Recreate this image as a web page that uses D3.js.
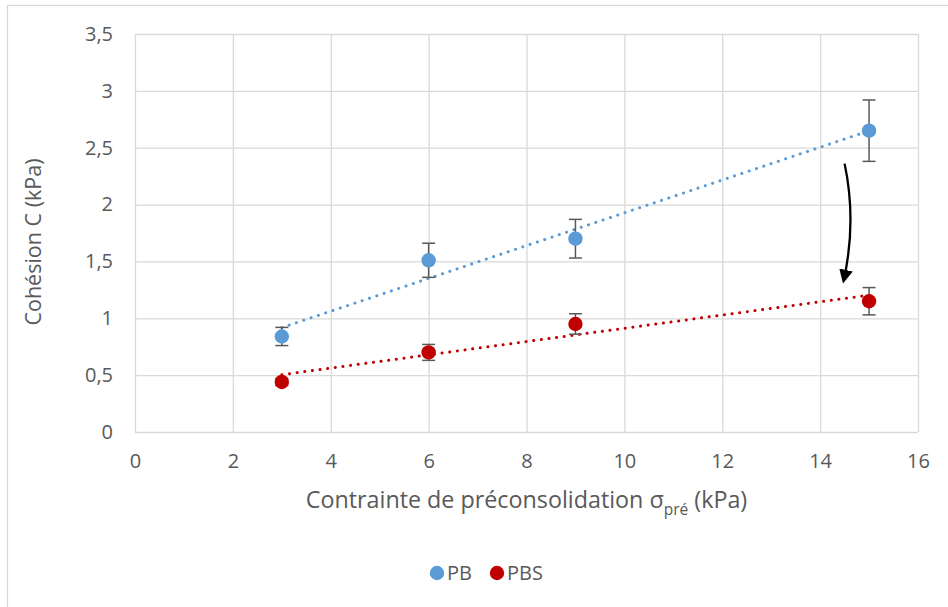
<!DOCTYPE html>
<html><head><meta charset="utf-8">
<script src="https://cdn.jsdelivr.net/npm/d3@7/dist/d3.min.js"></script>
<style>body{margin:0;background:#fff}svg{display:block}</style>
</head><body>
<svg id="c" width="948" height="607"></svg>
<script>
const xValues = [3, 6, 9, 15];
const pbValues = [0.84, 1.51, 1.70, 2.65];
const pbErrors = [0.08, 0.15, 0.17, 0.27];
const pbsValues = [0.44, 0.70, 0.95, 1.15];
const pbsErrors = [0.03, 0.07, 0.09, 0.12];
const xTicks = [0, 2, 4, 6, 8, 10, 12, 14, 16];
const yTicks = [0, 0.5, 1, 1.5, 2, 2.5, 3, 3.5];
const seriesNames = ["PB", "PBS"];
const seriesColors = ["#5B9BD5", "#C00000"];
const arrowPath = [[14.5, 2.36], [14.75, 1.85], [14.48, 1.33]];

const svg = d3.select("#c");
const font = "'Open Sans', 'Noto Sans', sans-serif";
const W = 948, H = 607;
const m = {l: 135, r: 918, t: 34, b: 432};
const x = d3.scaleLinear().domain([0, 16]).range([m.l, m.r]);
const y = d3.scaleLinear().domain([0, 3.5]).range([m.b, m.t]);

// outer border
svg.append("rect").attr("x", 7.5).attr("y", 5.5).attr("width", W + 10).attr("height", H + 10)
  .attr("fill", "none").attr("stroke", "#d9d9d9").attr("stroke-width", 1.3);

// gridlines
const gx = svg.append("g").attr("transform", `translate(0,${m.b})`)
  .call(d3.axisBottom(x).tickValues(xTicks).tickSize(-(m.b - m.t)).tickFormat(d => d).tickPadding(22));
gx.select(".domain").remove();
gx.selectAll("line").attr("stroke", "#d9d9d9").attr("stroke-width", 1.3);
gx.selectAll("text").attr("fill", "#595959").style("font-family", font).style("font-size", "20px");

const gy = svg.append("g").attr("transform", `translate(${m.l},0)`)
  .call(d3.axisLeft(y).tickValues(yTicks).tickSize(-(m.r - m.l)).tickFormat(d => String(d).replace(".", ",")).tickPadding(22));
gy.select(".domain").remove();
gy.selectAll("line").attr("stroke", "#d9d9d9").attr("stroke-width", 1.3);
gy.selectAll("text").attr("fill", "#595959").style("font-family", font).style("font-size", "20px");

// axis titles
const xt = svg.append("text").attr("x", (m.l + m.r) / 2 + 0).attr("y", 508).attr("text-anchor", "middle")
  .attr("fill", "#595959").style("font-family", font).style("font-size", "23.3px");
xt.append("tspan").text("Contrainte de préconsolidation σ");
xt.append("tspan").attr("dy", 7).style("font-size", "15.5px").text("pré");
xt.append("tspan").attr("dy", -7).text(" (kPa)");

svg.append("text").attr("transform", `translate(41,${(m.t + m.b) / 2 + 9}) rotate(-90)`).attr("text-anchor", "middle")
  .attr("fill", "#595959").style("font-family", font).style("font-size", "21.5px").text("Cohésion C (kPa)");

// trendlines (least squares)
function fit(xs, ys) {
  const mx = d3.mean(xs), my = d3.mean(ys);
  const sxy = d3.sum(xs, (v, i) => (v - mx) * (ys[i] - my));
  const sxx = d3.sum(xs, v => (v - mx) * (v - mx));
  const s = sxy / sxx; return [s, my - s * mx];
}
const series = [[pbValues, pbErrors], [pbsValues, pbsErrors]];
series.forEach(([vals, errs], k) => {
  const [s, b] = fit(xValues, vals);
  const x0 = d3.min(xValues), x1 = d3.max(xValues);
  svg.append("line").attr("x1", x(x0)).attr("y1", y(s * x0 + b)).attr("x2", x(x1)).attr("y2", y(s * x1 + b))
    .attr("stroke", seriesColors[k]).attr("stroke-width", 3).attr("stroke-linecap", "round")
    .attr("stroke-dasharray", "0.1 7.6");
});

// error bars and points
series.forEach(([vals, errs], k) => {
  const g = svg.append("g");
  xValues.forEach((xv, i) => {
    const cx = x(xv), y0 = y(vals[i] - errs[i]), y1 = y(vals[i] + errs[i]);
    g.append("line").attr("x1", cx).attr("x2", cx).attr("y1", y0).attr("y2", y1).attr("stroke", "#595959").attr("stroke-width", 1.5);
    [y0, y1].forEach(yy => g.append("line").attr("x1", cx - 6.5).attr("x2", cx + 6.5).attr("y1", yy).attr("y2", yy)
      .attr("stroke", "#595959").attr("stroke-width", 1.5));
  });
  g.selectAll("circle").data(xValues).join("circle")
    .attr("cx", d => x(d)).attr("cy", (d, i) => y(vals[i])).attr("r", 7.2).attr("fill", seriesColors[k]);
});

// curved arrow
svg.append("defs").append("marker").attr("id", "ah").attr("viewBox", "0 0 10 10").attr("refX", 8).attr("refY", 5)
  .attr("markerWidth", 6).attr("markerHeight", 6).attr("orient", "auto")
  .append("path").attr("d", "M0,0 L10,5 L0,10 z").attr("fill", "#000");
const p = arrowPath.map(([a, b]) => [x(a), y(b)]);
svg.append("path").attr("d", `M${p[0][0]},${p[0][1]} Q${p[1][0]},${p[1][1]} ${p[2][0]},${p[2][1]}`)
  .attr("fill", "none").attr("stroke", "#000").attr("stroke-width", 2.3).attr("marker-end", "url(#ah)");

// legend
const lg = svg.append("g");
const lx = [437, 497];
seriesNames.forEach((n, k) => {
  lg.append("circle").attr("cx", lx[k]).attr("cy", 573).attr("r", 7.2).attr("fill", seriesColors[k]);
  lg.append("text").attr("x", lx[k] + 10).attr("y", 580).attr("fill", "#595959")
    .style("font-family", font).style("font-size", "20px").text(n);
});
</script>
</body></html>
